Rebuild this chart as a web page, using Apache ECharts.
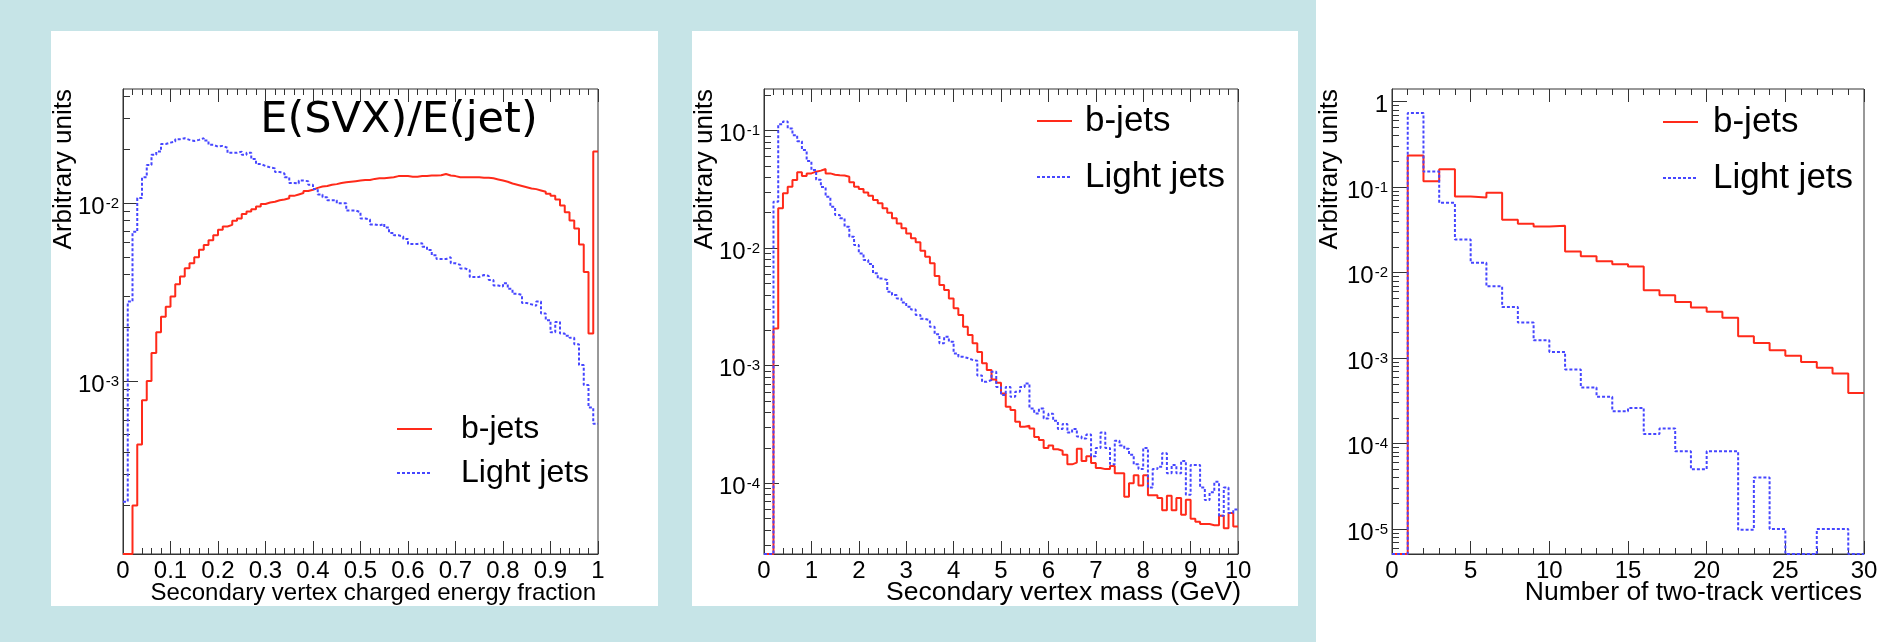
<!DOCTYPE html>
<html><head><meta charset="utf-8">
<script src="https://cdn.jsdelivr.net/npm/echarts@6/dist/echarts.min.js"></script>
<style>
html,body{margin:0;padding:0;background:#fff;width:1887px;height:642px;overflow:hidden;}
#bg{position:absolute;left:0;top:0;width:1316px;height:642px;background:#c6e4e7;}
.panel{position:absolute;background:#fff;top:31px;height:575px;}
#chart{position:absolute;left:0;top:0;width:1887px;height:642px;}
</style></head><body>
<div id="bg"></div>
<div class="panel" style="left:51px;width:607px"></div>
<div class="panel" style="left:692px;width:606px"></div>
<div id="chart"></div>
<script>
// ---------- DATA ----------
const seriesNames = ['b-jets', 'Light jets'];
const p1BinWidth = 0.01, p2BinWidth = 0.1, p3BinWidth = 1;

// Panel 1: Secondary vertex charged energy fraction (100 bins, 0..1)
const p1Red = [
 0, 0, 2.0e-4, 4.4e-4, 7.8e-4, 1.0e-3, 1.44e-3, 1.88e-3, 2.3e-3, 2.62e-3,
 2.99e-3, 3.5e-3, 3.87e-3, 4.31e-3, 4.6e-3, 4.97e-3, 5.47e-3, 5.83e-3, 6.2e-3, 6.6e-3,
 7.1e-3, 7.4e-3, 7.55e-3, 7.97e-3, 8.2e-3, 8.7e-3, 8.97e-3, 9.25e-3, 9.57e-3, 9.9e-3,
 1.01e-2, 1.02e-2, 1.04e-2, 1.05e-2, 1.067e-2, 1.1e-2, 1.12e-2, 1.14e-2, 1.17e-2, 1.19e-2,
 1.22e-2, 1.24e-2, 1.25e-2, 1.27e-2, 1.28e-2, 1.3e-2, 1.31e-2, 1.32e-2, 1.33e-2, 1.34e-2,
 1.35e-2, 1.35e-2, 1.37e-2, 1.38e-2, 1.38e-2, 1.39e-2, 1.4e-2, 1.42e-2, 1.42e-2, 1.42e-2,
 1.41e-2, 1.41e-2, 1.42e-2, 1.42e-2, 1.43e-2, 1.43e-2, 1.435e-2, 1.46e-2, 1.43e-2, 1.42e-2,
 1.4e-2, 1.4e-2, 1.4e-2, 1.4e-2, 1.4e-2, 1.39e-2, 1.39e-2, 1.38e-2, 1.36e-2, 1.34e-2,
 1.32e-2, 1.29e-2, 1.27e-2, 1.25e-2, 1.23e-2, 1.21e-2, 1.2e-2, 1.18e-2, 1.16e-2, 1.13e-2,
 1.1e-2, 1.05e-2, 9.7e-3, 8.9e-3, 8.0e-3, 7.2e-3, 5.85e-3, 4.1e-3, 1.85e-3, 1.95e-2
];
const p1Blue = [
 2.1e-4, 2.8e-3, 6.9e-3, 1.07e-2, 1.4e-2, 1.64e-2, 1.87e-2, 1.95e-2, 2.15e-2, 2.19e-2,
 2.22e-2, 2.29e-2, 2.32e-2, 2.27e-2, 2.24e-2, 2.27e-2, 2.32e-2, 2.25e-2, 2.13e-2, 2.08e-2,
 2.1e-2, 2.05e-2, 1.92e-2, 1.92e-2, 1.95e-2, 1.87e-2, 1.92e-2, 1.77e-2, 1.66e-2, 1.62e-2,
 1.59e-2, 1.57e-2, 1.5e-2, 1.47e-2, 1.4e-2, 1.3e-2, 1.29e-2, 1.34e-2, 1.33e-2, 1.27e-2,
 1.2e-2, 1.12e-2, 1.08e-2, 1.04e-2, 1.04e-2, 1.0e-2, 1.0e-2, 9.1e-3, 9.1e-3, 8.9e-3,
 8.2e-3, 8.1e-3, 7.6e-3, 7.5e-3, 7.65e-3, 7.3e-3, 6.8e-3, 6.6e-3, 6.5e-3, 6.3e-3,
 5.9e-3, 5.9e-3, 5.95e-3, 5.7e-3, 5.45e-3, 5.1e-3, 4.85e-3, 4.85e-3, 4.97e-3, 4.6e-3,
 4.5e-3, 4.3e-3, 4.2e-3, 3.85e-3, 3.85e-3, 3.95e-3, 3.9e-3, 3.7e-3, 3.45e-3, 3.4e-3,
 3.55e-3, 3.3e-3, 3.1e-3, 3.05e-3, 2.75e-3, 2.7e-3, 2.65e-3, 2.8e-3, 2.4e-3, 2.2e-3,
 1.88e-3, 2.15e-3, 1.85e-3, 1.8e-3, 1.75e-3, 1.61e-3, 1.23e-3, 9.5e-4, 7.1e-4, 5.75e-4
];

// Panel 2: Secondary vertex mass (GeV) (100 bins, 0..10)
const p2Red = [
 0, 0, 2.07e-3, 2.18e-2, 2.92e-2, 3.32e-2, 3.78e-2, 4.4e-2, 4.09e-2, 4.31e-2,
 4.46e-2, 4.55e-2, 4.7e-2, 4.31e-2, 4.2e-2, 4.15e-2, 4.13e-2, 4.04e-2, 3.62e-2, 3.32e-2,
 3.18e-2, 2.97e-2, 2.78e-2, 2.56e-2, 2.4e-2, 2.18e-2, 2.0e-2, 1.79e-2, 1.62e-2, 1.47e-2,
 1.33e-2, 1.21e-2, 1.12e-2, 9.5e-3, 8.44e-3, 7.41e-3, 5.78e-3, 4.85e-3, 4.39e-3, 3.73e-3,
 3.07e-3, 2.69e-3, 2.14e-3, 1.82e-3, 1.55e-3, 1.31e-3, 1.05e-3, 9.18e-4, 7.64e-4, 7.16e-4,
 5.81e-4, 4.47e-4, 4.19e-4, 3.33e-4, 3.02e-4, 3.08e-4, 2.93e-4, 2.48e-4, 2.33e-4, 2.0e-4,
 2.1e-4, 1.95e-4, 1.89e-4, 1.75e-4, 1.45e-4, 1.5e-4, 1.97e-4, 1.55e-4, 1.7e-4, 1.49e-4,
 1.35e-4, 1.32e-4, 1.32e-4, 1.4e-4, 1.22e-4, 1.22e-4, 7.7e-5, 1.0e-4, 1.17e-4, 9.6e-5,
 1.17e-4, 7.9e-5, 7.9e-5, 7.5e-5, 5.9e-5, 7.85e-5, 5.9e-5, 7.5e-5, 5.4e-5, 7.25e-5,
 5.0e-5, 4.7e-5, 4.5e-5, 4.5e-5, 4.4e-5, 4.4e-5, 5.3e-5, 4.15e-5, 5.6e-5, 4.3e-5
];
const p2Blue = [
 0, 0, 2.48e-2, 0.113, 0.119, 0.104, 9.1e-2, 8.1e-2, 6.8e-2, 5.5e-2,
 4.6e-2, 3.8e-2, 3.3e-2, 2.73e-2, 2.24e-2, 1.91e-2, 1.79e-2, 1.52e-2, 1.25e-2, 1.06e-2,
 9.0e-3, 7.9e-3, 7.3e-3, 6.1e-3, 5.5e-3, 5.35e-3, 4.25e-3, 3.98e-3, 3.73e-3, 3.45e-3,
 3.17e-3, 3.0e-3, 2.7e-3, 2.5e-3, 2.44e-3, 2.14e-3, 1.85e-3, 1.55e-3, 1.76e-3, 1.6e-3,
 1.27e-3, 1.19e-3, 1.16e-3, 1.12e-3, 1.1e-3, 8.25e-4, 7.3e-4, 7.55e-4, 8.87e-4, 6.6e-4,
 5.62e-4, 6.6e-4, 5.43e-4, 6.0e-4, 6.6e-4, 7.06e-4, 4.33e-4, 3.93e-4, 4.33e-4, 3.56e-4,
 3.9e-4, 3.4e-4, 2.9e-4, 3.2e-4, 2.7e-4, 2.9e-4, 2.5e-4, 2.4e-4, 2.6e-4, 1.7e-4,
 2.0e-4, 2.7e-4, 2.0e-4, 1.45e-4, 2.3e-4, 2.1e-4, 1.97e-4, 1.75e-4, 1.45e-4, 1.32e-4,
 2.0e-4, 9.2e-5, 1.32e-4, 1.38e-4, 1.8e-4, 1.22e-4, 1.43e-4, 1.22e-4, 1.55e-4, 8.0e-5,
 1.43e-4, 1.43e-4, 9.2e-5, 7.2e-5, 8.4e-5, 1.03e-4, 5.3e-5, 9.2e-5, 5.6e-5, 6.0e-5
];

// Panel 3: Number of two-track vertices (30 bins, 0..30)
const p3Red = [
 0, 0.234, 0.117, 0.162, 0.0777, 0.0756, 0.0858, 0.0415, 0.0372, 0.0347,
 0.0353, 0.0177, 0.0155, 0.0136, 0.0125, 0.0118, 0.0062, 0.00542, 0.00453, 0.00389,
 0.00349, 0.00297, 0.0018, 0.0015, 0.00123, 0.00106, 0.0009, 0.00077, 0.00066, 0.00039
];
const p3Blue = [
 0, 0.738, 0.152, 0.0655, 0.0244, 0.013, 0.0069, 0.00396, 0.0026, 0.00161,
 0.00118, 0.000735, 0.000452, 0.000352, 0.000239, 0.000261, 0.000129, 0.00015, 0.000081, 0.00005,
 0.000081, 0.000081, 0.0000098, 0.00004, 0.00001, 0, 0, 0.00001, 0.00001, 0
];

// Tick labels
const p1YTicks = [1e-3, 1e-2];
const p2YTicks = [1e-4, 1e-3, 1e-2, 1e-1];
const p3YTicks = [1e-5, 1e-4, 1e-3, 1e-2, 1e-1, 1];

// Axis titles
const p1XTitle = 'Secondary vertex charged energy fraction';
const p2XTitle = 'Secondary vertex mass (GeV)';
const p3XTitle = 'Number of two-track vertices';
const yTitle = 'Arbitrary units';
const p1Note = 'E(SVX)/E(jet)';

// ---------- STYLE / LAYOUT ----------
const FONT = '"Liberation Sans", Arial, Helvetica, sans-serif';
const AX = '#333';
const RED = '#ff2a1a';
const BLUE = '#4646ff';
const LAB = 24;   // tick label size
const SUP = 15;   // exponent size

const panels = [
  { left: 123, top: 89, width: 475, height: 465, xMin: 0, xMax: 1, xStep: 0.1, bw: p1BinWidth,
    yMin: Math.pow(10, -3.972), yMax: Math.pow(10, -1.358), yTicks: p1YTicks, red: p1Red, blue: p1Blue },
  { left: 764, top: 89, width: 474, height: 465, xMin: 0, xMax: 10, xStep: 1, bw: p2BinWidth,
    yMin: Math.pow(10, -4.601), yMax: Math.pow(10, -0.648), yTicks: p2YTicks, red: p2Red, blue: p2Blue },
  { left: 1392, top: 89, width: 472, height: 465, xMin: 0, xMax: 30, xStep: 5, bw: p3BinWidth,
    yMin: Math.pow(10, -5.293), yMax: Math.pow(10, 0.148), yTicks: p3YTicks, red: p3Red, blue: p3Blue }
];

function hist(values, width, floor) {
  const pts = values.map((v, i) => [+(i * width).toFixed(6), Math.max(v, floor)]);
  pts.push([+(values.length * width).toFixed(6), Math.max(values[values.length - 1], floor)]);
  return pts;
}
function minorLog(min, max) {
  const out = [];
  for (let e = Math.floor(Math.log10(min)); e <= Math.ceil(Math.log10(max)); e++) {
    for (let k = 2; k <= 9; k++) {
      const v = k * Math.pow(10, e);
      if (v > min && v < max) out.push(v);
    }
  }
  return out;
}
function logLabel(v) {
  const e = Math.round(Math.log10(v));
  return e === 0 ? '{m|1}' : '{m|10}{s|' + e + '}';
}

const grids = [], xAxes = [], yAxes = [], series = [];
panels.forEach((p, i) => {
  grids.push({ left: p.left, top: p.top, width: p.width, height: p.height, show: true,
    borderColor: AX, borderWidth: 1, backgroundColor: 'transparent', containLabel: false });
  const xBase = { type: 'value', gridIndex: i, min: p.xMin, max: p.xMax, interval: p.xStep,
    splitLine: { show: false }, minorSplitLine: { show: false },
    axisLine: { show: true, onZero: false, lineStyle: { color: AX, width: 1 } },
    axisTick: { show: true, inside: true, length: 13, lineStyle: { color: AX, width: 1 } },
    minorTick: { show: true, splitNumber: 5, length: 6, lineStyle: { color: AX, width: 1 } } };
  xAxes.push(Object.assign({}, xBase, { position: 'bottom',
    axisLabel: { show: true, margin: 5, fontSize: LAB, fontFamily: FONT, color: '#000' } }));
  xAxes.push(Object.assign({}, xBase, { position: 'top', axisLine: { show: false }, axisLabel: { show: false } }));
  const yBase = { type: 'log', logBase: 10, gridIndex: i, min: p.yMin, max: p.yMax, position: 'left',
    splitLine: { show: false }, axisLine: { show: true, onZero: false, lineStyle: { color: AX, width: 1 } } };
  yAxes.push(Object.assign({}, yBase, {
    axisTick: { show: true, inside: true, length: 15, customValues: p.yTicks, lineStyle: { color: AX, width: 1 } },
    axisLabel: { show: true, customValues: p.yTicks, formatter: logLabel, margin: 4, color: '#000',
      rich: {
        m: { fontSize: LAB, fontFamily: FONT, color: '#000', lineHeight: 28, padding: [8, 0, 0, 0] },
        s: { fontSize: SUP, fontFamily: FONT, color: '#000', lineHeight: 16, verticalAlign: 'top', padding: [7, 0, 0, 1] }
      } } }));
  yAxes.push(Object.assign({}, yBase, { axisLine: { show: false },
    axisTick: { show: true, inside: true, length: 7, customValues: minorLog(p.yMin, p.yMax), lineStyle: { color: AX, width: 1 } },
    axisLabel: { show: false } }));
  series.push({ type: 'line', name: seriesNames[0], xAxisIndex: 2 * i, yAxisIndex: 2 * i,
    data: hist(p.red, p.bw, p.yMin), step: 'end', symbol: 'none', showSymbol: false,
    lineStyle: { color: RED, width: 2 }, itemStyle: { color: RED }, z: 3 });
  series.push({ type: 'line', name: seriesNames[1], xAxisIndex: 2 * i, yAxisIndex: 2 * i,
    data: hist(p.blue, p.bw, p.yMin), step: 'end', symbol: 'none', showSymbol: false,
    lineStyle: { color: BLUE, width: 2, type: [3, 2] }, itemStyle: { color: BLUE }, z: 4 });
});

function legendAt(left, top, fontSize, rowH, gap) {
  return { show: true, orient: 'vertical', left: left, top: top, padding: 0, itemGap: 0,
    itemWidth: 35, itemHeight: 14, selectedMode: false, data: seriesNames,
    itemStyle: { opacity: 0 },
    textStyle: { fontSize: fontSize, fontFamily: FONT, color: '#000', lineHeight: rowH, padding: [0, 0, 0, gap] } };
}

const titleText = (x, y, text, size, extra) => Object.assign({ type: 'text', x: x, y: y, silent: true,
  style: { text: text, font: size + 'px ' + FONT, fill: '#000', align: 'right', verticalAlign: 'middle' } }, extra || {});

const chart = echarts.init(document.getElementById('chart'), null, { renderer: 'canvas' });
chart.setOption({
  animation: false,
  backgroundColor: 'transparent',
  grid: grids,
  xAxis: xAxes,
  yAxis: yAxes,
  series: series,
  legend: [
    legendAt(396, 407, 32, 44, 24),
    legendAt(1036, 93, 35, 56, 8),
    legendAt(1662, 94, 35, 56, 10)
  ],
  graphic: [
    titleText(596, 593, p1XTitle, 24),
    titleText(1241, 593, p2XTitle, 26.5),
    titleText(1862, 593, p3XTitle, 26.5),
    titleText(64, 89, yTitle, 26, { rotation: Math.PI / 2 }),
    titleText(705, 89, yTitle, 26, { rotation: Math.PI / 2 }),
    titleText(1330, 89, yTitle, 26, { rotation: Math.PI / 2 }),
    { type: 'text', x: 399, y: 121, silent: true,
      style: { text: p1Note, font: '43px "DejaVu Sans", Verdana, sans-serif', fill: '#000', align: 'center', verticalAlign: 'middle' } }
  ]
});
</script></body></html>
